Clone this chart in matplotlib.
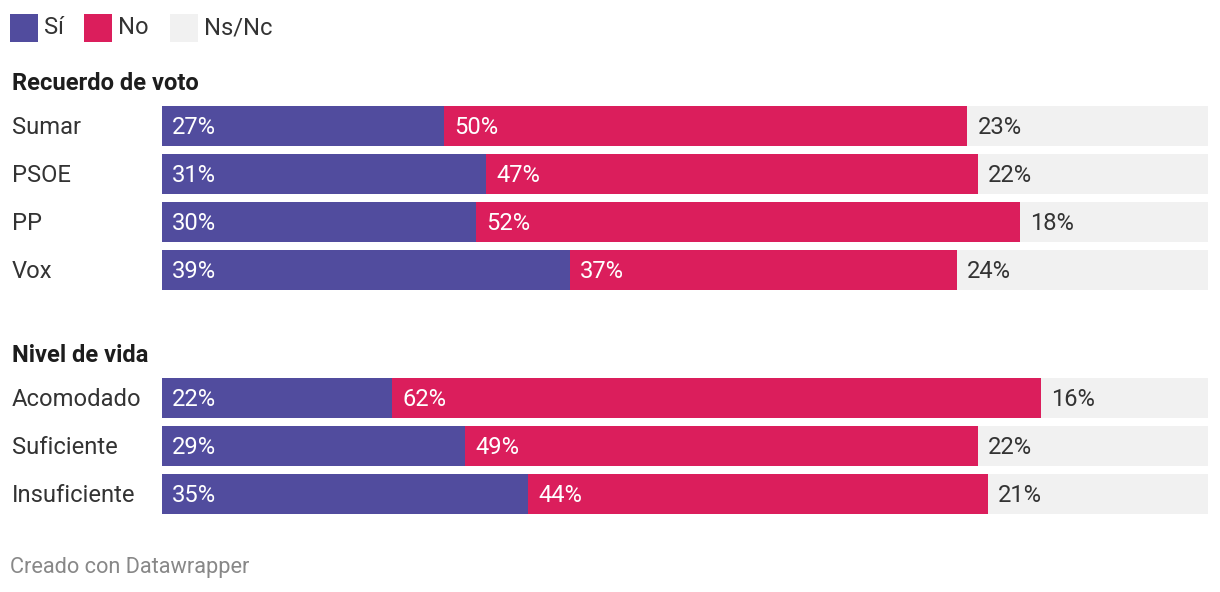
import matplotlib
matplotlib.use("Agg")
import matplotlib.pyplot as plt
from matplotlib.patches import Rectangle

plt.rcParams['font.family'] = ['Roboto', 'DejaVu Sans']

groups = ["Recuerdo de voto", "Nivel de vida"]
categories = [["Sumar", "PSOE", "PP", "Vox"],
              ["Acomodado", "Suficiente", "Insuficiente"]]
si = [[27, 31, 30, 39], [22, 29, 35]]
no = [[50, 47, 52, 37], [62, 49, 44]]
nsnc = [[23, 22, 18, 24], [16, 22, 21]]
series_names = ["Sí", "No", "Ns/Nc"]
colors = ["#514c9e", "#db1e5c", "#f1f1f1"]

W, H = 1220, 592
fig = plt.figure(figsize=(W / 100, H / 100), dpi=100)
x0, x1 = 162, 1208
ax = fig.add_axes([x0 / W, 0, (x1 - x0) / W, 1])
ax.set_xlim(0, 100)
ax.set_ylim(H, 0)
ax.axis('off')

def px_to_x(px):
    return (px - x0) / (x1 - x0) * 100

fs = 17.1
bar_h = 40
row_step = 48
group_tops = [106, 378]
header_y = [83.5, 355.5]

for g, gname in enumerate(groups):
    ax.text(px_to_x(12), header_y[g], gname, fontsize=fs, fontweight='bold',
            color='#1d1d1d', va='center', ha='left', clip_on=False)
    for i, cat in enumerate(categories[g]):
        top = group_tops[g] + i * row_step
        yc = top + bar_h / 2
        ax.text(px_to_x(12), yc + 1, cat, fontsize=fs, color='#333333',
                va='center', ha='left', clip_on=False)
        vals = [si[g][i], no[g][i], nsnc[g][i]]
        left = 0
        for k, v in enumerate(vals):
            ax.barh(yc, v, left=left, height=bar_h, color=colors[k],
                    edgecolor='none')
            tc = 'white' if k < 2 else '#333333'
            ax.text(left + px_to_x(x0 + 10), yc + 1, f"{v}%", fontsize=fs,
                    color=tc, va='center', ha='left')
            left += v

lx = [10, 84, 170]
for k, name in enumerate(series_names):
    fig.patches.append(Rectangle((lx[k] / W, 1 - 42 / H), 28 / W, 28 / H,
                                 transform=fig.transFigure,
                                 facecolor=colors[k], edgecolor='none'))
    fig.text((lx[k] + 34) / W, 1 - 28 / H, name, fontsize=fs,
             color='#333333', va='center', ha='left')

fig.text(10 / W, 1 - 567 / H, "Creado con Datawrapper", fontsize=15.7,
         color='#888888', va='center', ha='left')

fig.savefig("out.png", dpi=100, facecolor='white')
